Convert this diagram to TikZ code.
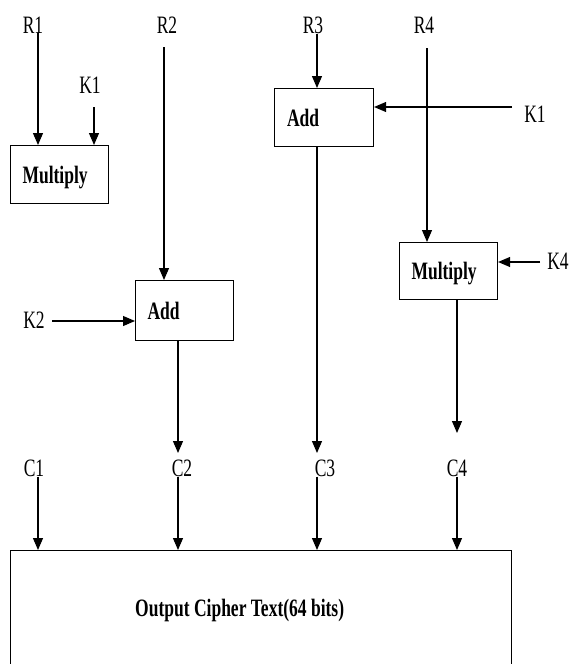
\documentclass[tikz,border=0pt]{standalone}
\usepackage{fontspec}
\setmainfont{Liberation Serif}[FakeStretch=0.7]
\usepackage{tikz}
\usetikzlibrary{positioning,arrows.meta}
\tikzset{
  lbl/.style={inner sep=0pt, font=\fontsize{25}{30}\selectfont},
  box/.style={draw, line width=1.1pt, anchor=north west, align=left,
    inner xsep=12pt, inner ysep=0pt, text width=74pt, minimum width=98pt,
    minimum height=58pt, text height=17pt, text depth=0pt,
    font=\fontsize{25}{30}\selectfont\bfseries},
  bigbox/.style={draw, line width=1.1pt, anchor=north west},
  flow/.style={-{Triangle[length=12pt,width=10pt]}, line width=1.1pt},
}

\begin{document}
\begin{tikzpicture}[x=1pt,y=-1pt]
  \useasboundingbox (0,0) rectangle (573,664);
  \clip (0,0) rectangle (573,664);
  % labels
  \node[lbl] (r1) at (33,25) {R1};
  \node[lbl] (r2) at (167,25) {R2};
  \node[lbl] (r3) at (313,25) {R3};
  \node[lbl] (r4) at (424,25) {R4};
  \node[lbl] (k1) at (90,85) {K1};
  \node[lbl] (k1b) at (535,114) {K1};
  \node[lbl] (k2) at (34,320) {K2};
  \node[lbl] (k4) at (558,261) {K4};
  \node[lbl] (c1) at (34,468) {C1};
  \node[lbl] (c2) at (182,468) {C2};
  \node[lbl] (c3) at (325,468) {C3};
  \node[lbl] (c4) at (457,468) {C4};
  % columns and free ends
  \coordinate (x1) at (38,0);
  \coordinate (x2) at (178,0);
  \coordinate (x3) at (317,0);
  \coordinate (x4) at (457,0);
  \coordinate (k1s) at (94,107);
  \coordinate (r2s) at (164,47);
  \coordinate (r4s) at (427,48);
  \coordinate (k1bs) at (512,107);
  \coordinate (k2s) at (52,321);
  \coordinate (k4s) at (540,262);
  \coordinate (c2in) at (178,453);
  \coordinate (c3in) at (317,453);
  \coordinate (c4in) at (457,433);
  % boxes
  \node[box] (mul1) at (10,145) {Multiply};
  \node[box, minimum height=60pt] (add2) at (135,280) {Add};
  \node[box, minimum width=99pt] (add3) at (274,88) {Add};
  \node[box, minimum height=57pt] (mul4) at (399,242) {Multiply};
  \node[bigbox, minimum width=501pt, minimum height=140pt] (out) at (10,550) {};
  \node[lbl, font=\fontsize{25}{30}\selectfont\bfseries, anchor=base west] (outtxt)
    at (135,616) {Output Cipher Text(64 bits)};
  % arrows
  \draw[flow] (r1.south -| x1) -- (mul1.north -| x1);
  \draw[flow] (k1s) -- (mul1.north -| k1s);
  \draw[flow] (r2s) -- (add2.north -| r2s);
  \draw[flow] (k2s) -- (add2.west |- k2s);
  \draw[flow] (r3.south -| x3) -- (add3.north -| x3);
  \draw[flow] (k1bs) -- (add3.east |- k1bs);
  \draw[flow] (r4s) -- (mul4.north -| r4s);
  \draw[flow] (k4s) -- (mul4.east |- k4s);
  \draw[flow] (add2.south -| x2) -- (c2in);
  \draw[flow] (add3.south -| x3) -- (c3in);
  \draw[flow] (mul4.south -| x4) -- (c4in);
  \foreach \c/\x in {c1/x1,c2/x2,c3/x3,c4/x4}
    \draw[flow] (\c.south -| \x) -- (out.north -| \x);
\end{tikzpicture}
\end{document}
